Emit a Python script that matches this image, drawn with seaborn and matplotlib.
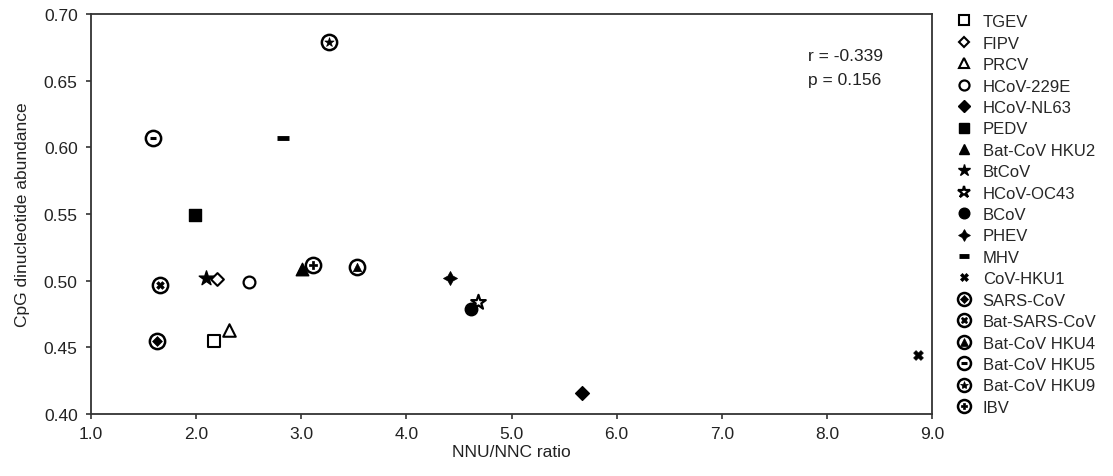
import numpy as np
import pandas as pd
import matplotlib
matplotlib.use("Agg")
import matplotlib.pyplot as plt
from matplotlib.lines import Line2D
import seaborn as sns

# --- data ---
viruses = ["TGEV", "FIPV", "PRCV", "HCoV-229E", "HCoV-NL63", "PEDV",
           "Bat-CoV HKU2", "BtCoV", "HCoV-OC43", "BCoV", "PHEV", "MHV",
           "CoV-HKU1", "SARS-CoV", "Bat-SARS-CoV", "Bat-CoV HKU4",
           "Bat-CoV HKU5", "Bat-CoV HKU9", "IBV"]
nnu_nnc = [2.17, 2.20, 2.31, 2.50, 5.67, 1.99,
           3.01, 2.09, 4.68, 4.61, 4.41, 2.83,
           8.87, 1.63, 1.66, 3.53,
           1.59, 3.26, 3.11]
cpg = [0.455, 0.501, 0.463, 0.499, 0.416, 0.549,
       0.509, 0.502, 0.484, 0.479, 0.502, 0.607,
       0.444, 0.455, 0.497, 0.510,
       0.607, 0.679, 0.512]
r_value = -0.339
p_value = 0.156

df = pd.DataFrame({"virus": viruses, "ratio": nnu_nnc, "cpg": cpg})

K = "black"
W = "white"
# marker, size (pt), face, edge, edge width, inner marker (for ringed markers)
styles = {
    "TGEV": ("s", 9, W, K, 1.5, None),
    "FIPV": ("D", 6.5, W, K, 1.5, None),
    "PRCV": ("^", 9, W, K, 1.5, None),
    "HCoV-229E": ("o", 8.5, W, K, 1.6, None),
    "HCoV-NL63": ("D", 7, K, K, 1, None),
    "PEDV": ("s", 8.5, K, K, 1, None),
    "Bat-CoV HKU2": ("^", 9, K, K, 1, None),
    "BtCoV": ("*", 11, K, K, 1, None),
    "HCoV-OC43": ("*", 11, W, K, 1.6, None),
    "BCoV": ("o", 9, K, K, 1, None),
    "PHEV": ((4, 1, 0), 10, K, K, 0.6, None),
    "MHV": ("_", 8, K, K, 3.5, None),
    "CoV-HKU1": ("X", 7, K, K, 0.5, None),
    "SARS-CoV": ("o", 11, W, K, 1.8, ("D", 5)),
    "Bat-SARS-CoV": ("o", 11, W, K, 1.8, ("X", 5.5)),
    "Bat-CoV HKU4": ("o", 11, W, K, 1.8, ("^", 6)),
    "Bat-CoV HKU5": ("o", 11, W, K, 1.8, ("_", 5)),
    "Bat-CoV HKU9": ("o", 11, W, K, 1.8, ("*", 7)),
    "IBV": ("o", 11, W, K, 1.8, ("P", 5.5)),
}

sns.set_theme(style="ticks")
plt.rcParams["font.family"] = ["Liberation Sans", "DejaVu Sans"]

fig = plt.figure(figsize=(11.13, 4.77), dpi=100)
ax = fig.add_axes([0.0818, 0.130, 0.7556, 0.8386])

handles = []
for name in viruses:
    mk, ms, fc, ec, lw, inner = styles[name]
    sub = df[df["virus"] == name]
    sns.scatterplot(data=sub, x="ratio", y="cpg", marker=mk, s=ms ** 2,
                    facecolors=fc, edgecolors=ec, linewidth=lw, ax=ax,
                    legend=False, zorder=3)
    h = Line2D([], [], linestyle="none", marker=mk, markersize=ms * 0.85,
               markerfacecolor=fc, markeredgecolor=ec, markeredgewidth=lw)
    if inner is not None:
        imk, ims = inner
        iew = 2.2 if imk == "_" else 0.5
        sns.scatterplot(data=sub, x="ratio", y="cpg", marker=imk, s=ims ** 2,
                        facecolors=K, edgecolors=K, linewidth=iew, ax=ax,
                        legend=False, zorder=4)
        hi = Line2D([], [], linestyle="none", marker=imk, markersize=ims * 0.85,
                    markerfacecolor=K, markeredgecolor=K, markeredgewidth=iew)
        h = (h, hi)
    handles.append(h)

ax.set_xlim(1.0, 9.0)
ax.set_ylim(0.40, 0.70)
ax.set_xticks(np.arange(1.0, 9.01, 1.0))
ax.set_yticks(np.arange(0.40, 0.701, 0.05))
ax.xaxis.set_major_formatter(matplotlib.ticker.FormatStrFormatter("%.1f"))
ax.yaxis.set_major_formatter(matplotlib.ticker.FormatStrFormatter("%.2f"))
ax.tick_params(axis="both", direction="out", length=3.6, width=1.2,
               color="#333333", labelsize=12.5, labelcolor="#222222")
ax.tick_params(axis="x", pad=5)
ax.tick_params(axis="y", pad=6)
for sp in ax.spines.values():
    sp.set_linewidth(1.3)
    sp.set_color("#333333")

ax.set_xlabel("NNU/NNC ratio", fontsize=12.5, color="#222222", labelpad=2)
ax.set_ylabel("CpG dinucleotide abundance", fontsize=12.5, color="#222222", labelpad=10)

ax.text(0.853, 0.895, f"r = {r_value:.3f}", transform=ax.transAxes,
        fontsize=12.5, va="center", ha="left", color="#222222")
ax.text(0.853, 0.835, f"p = {p_value:.3f}", transform=ax.transAxes,
        fontsize=12.5, va="center", ha="left", color="#222222")

fig.legend(handles, viruses, loc="upper left", bbox_to_anchor=(0.853, 0.982),
           frameon=False, fontsize=12, handlelength=1.0, handletextpad=0.6,
           labelspacing=0.385, borderaxespad=0,
           handler_map={tuple: matplotlib.legend_handler.HandlerTuple(ndivide=1)})

fig.savefig("out.png", dpi=100)
